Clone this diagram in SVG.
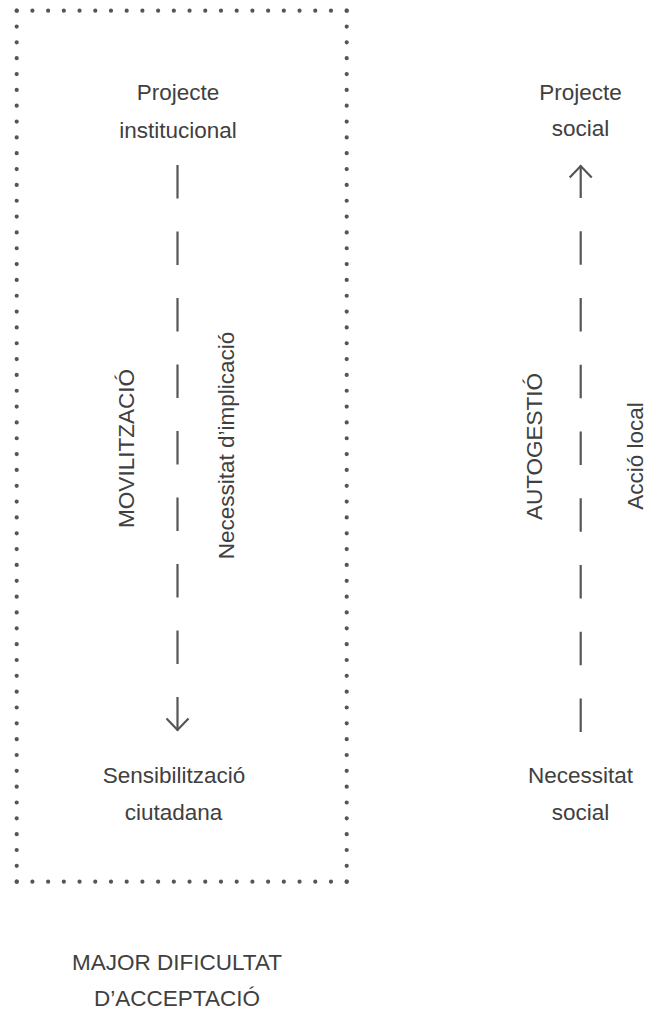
<svg xmlns="http://www.w3.org/2000/svg" width="651" height="1015" viewBox="0 0 651 1015">
<style>
.t{font-family:"Liberation Sans",Arial,Helvetica,sans-serif;font-size:22.5px;fill:#404040;text-anchor:middle}
.dot{stroke:#555;stroke-width:4.2;stroke-linecap:round;fill:none}
.dash{stroke:#555;stroke-width:2.2;fill:none}
.head{stroke:#555;stroke-width:2.2;fill:none;stroke-linejoin:miter;stroke-linecap:butt}
</style>
<rect width="651" height="1015" fill="#ffffff"/>
<g id="frame">
<line class="dot" x1="16.7" y1="10.7" x2="346.7" y2="10.7" stroke-dasharray="0 15.714"/>
<line class="dot" x1="16.7" y1="881.7" x2="346.7" y2="881.7" stroke-dasharray="0 15.714"/>
<line class="dot" x1="16.7" y1="10.7" x2="16.7" y2="881.7" stroke-dasharray="0 15.836"/>
<line class="dot" x1="346.7" y1="10.7" x2="346.7" y2="881.7" stroke-dasharray="0 15.836"/>
</g>
<g id="connectors">
<line class="dash" x1="177.5" y1="165" x2="177.5" y2="731" stroke-dasharray="33.5 33"/>
<polyline class="head" points="166.5,718.5 177.5,730 188.5,718.5"/>
<line class="dash" x1="580.7" y1="732" x2="580.7" y2="165.5" stroke-dasharray="33.5 33.25"/>
<polyline class="head" points="569.7,177.5 580.7,166 591.7,177.5"/>
</g>
<g id="node-projecte-institucional">
<text class="t" x="178" y="100">Projecte</text>
<text class="t" x="178" y="137.5">institucional</text>
</g>
<g id="node-sensibilitzacio">
<text class="t" x="174" y="783">Sensibilització</text>
<text class="t" x="173.5" y="820">ciutadana</text>
</g>
<g id="node-projecte-social">
<text class="t" x="580.5" y="99.5">Projecte</text>
<text class="t" x="580.5" y="136">social</text>
</g>
<g id="node-necessitat-social">
<text class="t" x="580.5" y="783">Necessitat</text>
<text class="t" x="580.5" y="820">social</text>
</g>
<g id="labels">
<text class="t" transform="translate(133.5,448.5) rotate(-90)">MOVILITZACIÓ</text>
<text class="t" transform="translate(233.5,445.5) rotate(-90)">Necessitat d’implicació</text>
<text class="t" transform="translate(541.5,446.5) rotate(-90)">AUTOGESTIÓ</text>
<text class="t" transform="translate(643,456) rotate(-90)">Acció local</text>
</g>
<g id="note">
<text class="t" x="177" y="969.5">MAJOR DIFICULTAT</text>
<text class="t" x="177" y="1006">D’ACCEPTACIÓ</text>
</g>
</svg>
